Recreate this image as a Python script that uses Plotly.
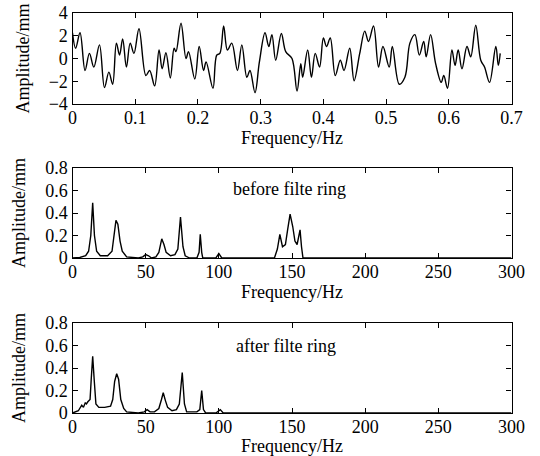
import plotly.graph_objects as go

# ---- Top panel: time signal ----
sig_t = [0.000, 0.005, 0.012, 0.020, 0.027, 0.034, 0.043, 0.051, 0.058, 0.064,
         0.070, 0.075, 0.080, 0.086, 0.092, 0.098, 0.106, 0.117, 0.123, 0.131,
         0.138, 0.143, 0.149, 0.156, 0.162, 0.165, 0.173, 0.181, 0.185, 0.195,
         0.202, 0.209, 0.213, 0.224, 0.230, 0.235, 0.241, 0.247, 0.254, 0.263,
         0.270, 0.278, 0.283, 0.291, 0.298, 0.307, 0.313, 0.318, 0.324, 0.333,
         0.340, 0.350, 0.358, 0.364, 0.367, 0.375, 0.381, 0.387, 0.394, 0.400,
         0.405, 0.411, 0.419, 0.427, 0.433, 0.442, 0.449, 0.458, 0.466, 0.472,
         0.480, 0.488, 0.495, 0.505, 0.510, 0.521, 0.530, 0.538, 0.546, 0.553,
         0.560, 0.564, 0.571, 0.579, 0.588, 0.592, 0.598, 0.605, 0.610, 0.615,
         0.621, 0.629, 0.635, 0.643, 0.651, 0.657, 0.665, 0.675, 0.679, 0.682]
sig_v = [2.26, 0.90, 2.26, -1.05, 0.45, -0.75, 1.20, -2.56, -1.20, -2.26,
         1.35, 0.30, 1.71, -0.75, 1.35, 0.45, 2.62, -1.50, -1.05, -2.41,
         0.75, -0.90, 0.51, -1.71, 0.90, 0.60, 3.10, 0.00, 0.60, -1.80,
         1.05, -1.05, -0.30, -2.62, 0.30, 0.45, 2.86, 0.75, 1.35, -1.05,
         1.20, -1.65, -1.05, -3.00, -0.30, 2.26, 1.05, 2.10, -0.15, 2.20,
         0.60, 0.00, -2.86, -0.45, -1.65, 0.75, -1.65, 0.45, -0.75, 1.80,
         1.05, 1.80, -1.50, -0.15, -1.05, 0.90, -1.95, 0.45, 2.41, 1.50,
         2.86, -0.75, 1.05, -0.75, 1.05, -2.26, -1.65, 1.35, 2.10, 0.30,
         1.50, 0.15, 2.10, -0.45, -2.10, -1.50, -2.62, 0.75, -0.60, 0.75,
         -0.90, 1.05, 0.15, 2.92, -0.15, -0.75, -2.10, 1.05, -0.60, 0.45]

# ---- Middle panel: spectrum before filtering ----
before_f = [0, 5, 9, 11, 12.5, 13.8, 15, 16.5, 19, 24, 27, 28.5, 29.7, 31, 32.5,
            34, 37, 45, 48, 50, 52, 54, 57, 59, 61, 62.5, 64, 67, 70, 72, 73.8,
            75.5, 77, 80, 85, 86.5, 87.3, 88.3, 89, 98, 100, 102, 138, 140,
            141.7, 143.5, 145.5, 147, 148.7, 150.5, 152, 153.5, 155.5, 156.5,
            157.5, 300]
before_a = [0.0, 0.005, 0.02, 0.06, 0.2, 0.49, 0.2, 0.06, 0.02, 0.02, 0.06, 0.2,
            0.335, 0.3, 0.15, 0.06, 0.01, 0.0, 0.01, 0.03, 0.02, 0.0, 0.01, 0.05,
            0.17, 0.12, 0.05, 0.02, 0.03, 0.08, 0.365, 0.1, 0.02, 0.0, 0.0, 0.05,
            0.21, 0.05, 0.0, 0.0, 0.04, 0.0, 0.0, 0.08, 0.21, 0.1, 0.12, 0.25,
            0.39, 0.28, 0.15, 0.12, 0.25, 0.1, 0.0, 0.0]

# ---- Bottom panel: spectrum after filtering ----
after_f = [0, 4, 6.3, 7.5, 8.7, 9.5, 10.5, 12, 12.8, 13.8, 14.8, 16, 18, 22, 26,
           27.5, 28.8, 30.2, 31.5, 33, 35, 37, 45, 49, 51, 53, 56, 59, 60.8, 62,
           63.5, 65, 68, 71, 73, 75, 76.5, 78, 81, 85, 87, 88.3, 89.5, 91, 98,
           101, 103, 300]
after_a = [0.0, 0.02, 0.07, 0.05, 0.09, 0.08, 0.10, 0.12, 0.3, 0.505, 0.3, 0.08,
           0.05, 0.05, 0.06, 0.12, 0.28, 0.35, 0.3, 0.12, 0.04, 0.01, 0.0, 0.01,
           0.03, 0.01, 0.01, 0.04, 0.12, 0.18, 0.11, 0.05, 0.02, 0.03, 0.08,
           0.36, 0.08, 0.01, 0.01, 0.01, 0.03, 0.2, 0.03, 0.0, 0.0, 0.03, 0.0, 0.0]

x_ticks_top = [0, 0.1, 0.2, 0.3, 0.4, 0.5, 0.6, 0.7]
x_ticks_top_text = ["0", "0.1", "0.2", "0.3", "0.4", "0.5", "0.6", "0.7"]
y_ticks_top = [-4, -2, 0, 2, 4]
x_ticks_spec = [0, 50, 100, 150, 200, 250, 300]
y_ticks_spec = [0, 0.2, 0.4, 0.6, 0.8]
y_ticks_spec_text = ["0", "0.2", "0.4", "0.6", "0.8"]

FONT = "Liberation Serif"
line = dict(color="black", width=1.4)

fig = go.Figure()
fig.add_trace(go.Scatter(x=sig_t, y=sig_v, mode="lines",
                         line=dict(color="black", width=1.4, shape="spline", smoothing=1.0),
                         xaxis="x", yaxis="y"))
fig.add_trace(go.Scatter(x=before_f, y=before_a, mode="lines", line=line, xaxis="x2", yaxis="y2"))
fig.add_trace(go.Scatter(x=after_f, y=after_a, mode="lines", line=line, xaxis="x3", yaxis="y3"))

W, H = 540, 456
xd = [72.5 / W, 511.5 / W]
panels = [(13, 104), (168, 258), (323, 413)]
ydoms = [[1 - b / H, 1 - t / H] for t, b in panels]

common = dict(showline=True, linecolor="black", linewidth=1.2, mirror="allticks",
              ticks="inside", ticklen=5, tickcolor="black", tickwidth=1,
              showgrid=False, zeroline=False, automargin=False,
              tickfont=dict(family=FONT, size=18, color="black"))
xcommon = dict(common, ticklabelstandoff=-3)
xtitle = dict(text="Frequency/Hz", font=dict(family=FONT, size=18, color="black"), standoff=1)
ytitle = dict(text="Amplitude/mm", font=dict(family=FONT, size=18, color="black"), standoff=14)

fig.update_layout(
    width=W, height=H, margin=dict(l=0, r=0, t=0, b=0),
    paper_bgcolor="white", plot_bgcolor="white", showlegend=False,
    xaxis=dict(domain=xd, anchor="y", range=[0, 0.7], tickvals=x_ticks_top, ticktext=x_ticks_top_text, title=xtitle, **xcommon),
    yaxis=dict(domain=ydoms[0], anchor="x", range=[-4, 4], tickvals=y_ticks_top, title=ytitle, **common),
    xaxis2=dict(domain=xd, anchor="y2", range=[0, 300], tickvals=x_ticks_spec, title=xtitle, **xcommon),
    yaxis2=dict(domain=ydoms[1], anchor="x2", range=[0, 0.8], tickvals=y_ticks_spec, ticktext=y_ticks_spec_text, title=ytitle, **common),
    xaxis3=dict(domain=xd, anchor="y3", range=[0, 300], tickvals=x_ticks_spec, title=xtitle, **xcommon),
    yaxis3=dict(domain=ydoms[2], anchor="x3", range=[0, 0.8], tickvals=y_ticks_spec, ticktext=y_ticks_spec_text, title=ytitle, **common),
    annotations=[
        dict(text="before filte ring", x=148, y=0.61, xref="x2", yref="y2", showarrow=False,
             font=dict(family=FONT, size=18, color="black")),
        dict(text="after filte ring", x=146, y=0.60, xref="x3", yref="y3", showarrow=False,
             font=dict(family=FONT, size=18, color="black")),
    ],
)

fig.write_html("out.html", config={"displayModeBar": False},
               post_script="document.body.style.margin='0';document.body.style.overflow='hidden';")
